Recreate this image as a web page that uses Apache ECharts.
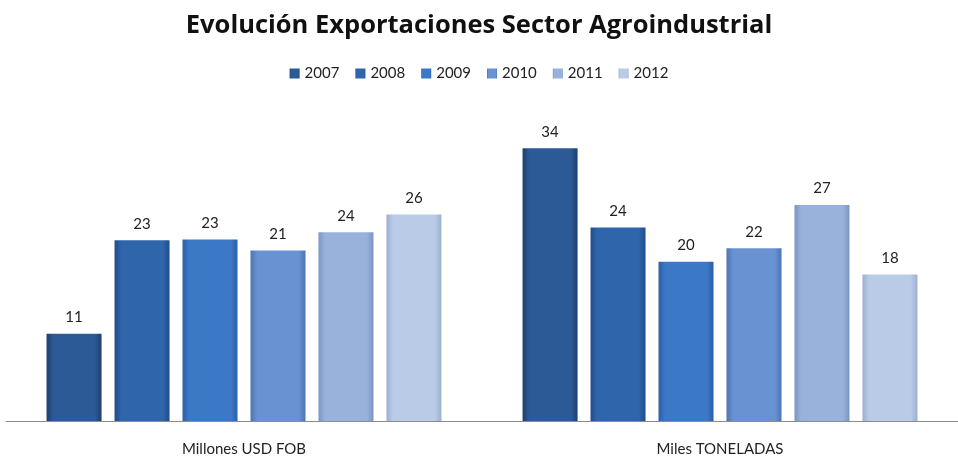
<!DOCTYPE html>
<html><head><meta charset="utf-8">
<script src="https://cdn.jsdelivr.net/npm/echarts@6/dist/echarts.min.js"></script>
<style>html,body{margin:0;padding:0;background:#fff}#c{width:958px;height:464px}</style>
</head><body><div id="c"></div>
<script>
const categories = ['Millones USD FOB', 'Miles TONELADAS'];
const years = ['2007', '2008', '2009', '2010', '2011', '2012'];
const v2007 = [10.9, 34.1];
const v2008 = [22.6, 24.2];
const v2009 = [22.7, 19.9];
const v2010 = [21.3, 21.6];
const v2011 = [23.6, 27.0];
const v2012 = [25.8, 18.3];
const seriesValues = [v2007, v2008, v2009, v2010, v2011, v2012];
const colors = [
  ['#1c3f6e', '#2c5a96', '#1c3f6e'],
  ['#204c88', '#2f65ab', '#204c88'],
  ['#2b5fa6', '#3b79c6', '#2b5fa6'],
  ['#4c74b2', '#6892d1', '#4c74b2'],
  ['#7b95c2', '#98b2dc', '#7b95c2'],
  ['#9cafd0', '#b9cbe6', '#9cafd0']
];
const FONT = 'Lato, "Open Sans", sans-serif';
function grad(c){
  return new echarts.graphic.LinearGradient(0,0,1,0,[
    {offset:0,color:c[0]},{offset:0.12,color:c[1]},{offset:0.88,color:c[1]},{offset:1,color:c[0]}
  ]);
}
const chart = echarts.init(document.getElementById('c'));
chart.setOption({
  animation:false,
  backgroundColor:'#ffffff',
  title:{text:'Evolución Exportaciones Sector Agroindustrial',left:'center',top:8,
    textStyle:{fontFamily:'"Open Sans", sans-serif',fontWeight:'bold',fontSize:25.5,color:'#111'}},
  legend:{top:61,left:'center',itemWidth:10,itemHeight:10,itemGap:16,icon:'rect',
    textStyle:{fontFamily:FONT,fontSize:15,color:'#222'},data:years},
  grid:{left:6,right:0,top:101,bottom:43,containLabel:false},
  xAxis:{type:'category',data:categories,
    axisLine:{lineStyle:{color:'#8c8c8c',width:1}},axisTick:{show:false},
    axisLabel:{fontFamily:FONT,fontSize:15,color:'#222',margin:21}},
  yAxis:{type:'value',min:0,max:40,show:false,splitLine:{show:false}},
  series: years.map((y,i)=>({
    name:y,type:'bar',data:seriesValues[i],barWidth:55,barGap:'23.6%',
    itemStyle:{color:grad(colors[i])},
    label:{show:true,position:'top',distance:9,fontFamily:FONT,fontSize:15,color:'#222',
      formatter:p=>Math.round(p.value)}
  }))
});
</script></body></html>
